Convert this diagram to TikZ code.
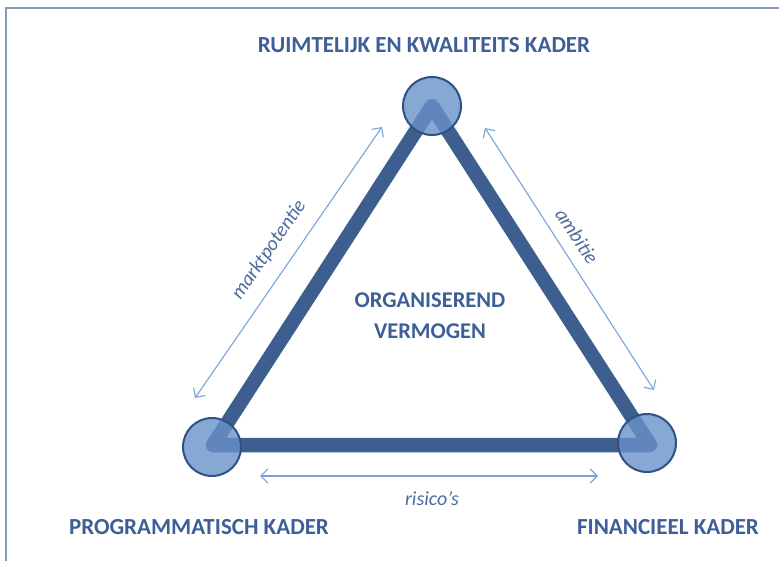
\documentclass[tikz,border=0pt]{standalone}
\usepackage{fontspec}
\setmainfont{Carlito}
\usetikzlibrary{arrows.meta}
\definecolor{frameC}{HTML}{8398BA}
\definecolor{triC}{HTML}{3C5F90}
\definecolor{circF}{HTML}{6991C9}
\definecolor{circD}{HTML}{2E5284}
\definecolor{txtC}{HTML}{3E5E98}
\definecolor{arrC}{HTML}{7AA2D8}
\definecolor{lblC}{HTML}{4D6B9C}
\tikzset{
  heading/.style={font=\fontsize{23}{27}\selectfont\bfseries, text=txtC, inner sep=0pt},
  vertexcirc/.style={circle, minimum size=58pt, inner sep=0pt, fill=circF, fill opacity=0.8, draw=circD, draw opacity=1, line width=2pt},
  sidearrow/.style={draw=arrC, line width=1.1pt, {Straight Barb[length=7pt,width=14pt]}-{Straight Barb[length=7pt,width=14pt]}},
  sidelabel/.style={font=\fontsize{20}{24}\selectfont\itshape, text=lblC, inner sep=0pt},
  tri/.style={draw=triC, line width=14.5pt, line join=round}
}
\begin{document}
\begin{tikzpicture}[x=1pt,y=-1pt]
\useasboundingbox (0,0) rectangle (779,561);
\draw[frameC, line width=1.5pt] (6,570) -- (6,8) -- (790,8);
% triangle
\coordinate (T) at (432,106);
\coordinate (L) at (213,445);
\coordinate (R) at (650,445);
\draw[tri] (T) -- (L) -- (R) -- cycle;
% circles
\node[vertexcirc] (cT) at (432,106) {};
\node[vertexcirc] (cL) at (212,447) {};
\node[vertexcirc] (cR) at (647,443) {};
% arrows
\coordinate (a1) at (195,398);
\coordinate (a2) at (382,127);
\coordinate (b1) at (485,128);
\coordinate (b2) at (654,390);
\coordinate (c1) at (260,476);
\coordinate (c2) at (598,476);
\draw[sidearrow] (a1) -- (a2);
\draw[sidearrow] (b1) -- (b2);
\draw[sidearrow] (c1) -- (c2);
% side labels
\node[sidelabel, rotate=55.5] (lm) at (269,250) {marktpotentie};
\node[sidelabel, rotate=-56.5] (la) at (577,236) {ambitie};
\node[sidelabel] (lr) at (432,499) {risico’s};
% headings
\node[heading] (hT) at (424,45) {RUIMTELIJK EN KWALITEITS KADER};
\node[heading] (hL) at (199,527) {PROGRAMMATISCH KADER};
\node[heading] (hR) at (668,527) {FINANCIEEL KADER};
\node[heading, align=center, font=\fontsize{22.5}{31}\selectfont\bfseries] (hC) at (430,316) {ORGANISEREND\\VERMOGEN};
\end{tikzpicture}
\end{document}
